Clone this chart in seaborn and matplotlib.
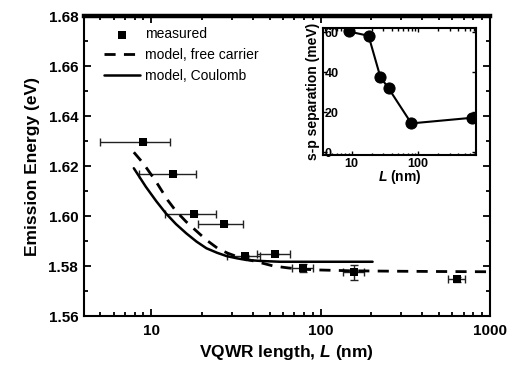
import numpy as np
import pandas as pd
import matplotlib
matplotlib.use("Agg")
import matplotlib.pyplot as plt
from matplotlib.ticker import LogLocator, FixedLocator, FixedFormatter, MultipleLocator, NullFormatter
import seaborn as sns

# Measured emission energies of the VQWRs
length_nm = [9, 13.5, 18, 27, 36, 54, 79, 158, 640]
length_err = [4, 5, 6, 8, 8, 12, 11, 23, 72]
energy_ev = [1.6295, 1.617, 1.601, 1.5967, 1.584, 1.585, 1.5792, 1.5775, 1.5747]
energy_err = [0.0, 0.0, 0.0, 0.0, 0.0005, 0.0, 0.0015, 0.003, 0.001]

# Model curves
free_L = [7.9, 9, 10.7, 12.5, 14, 16.1, 18.5, 21.2, 25, 28.4, 33, 36.6, 45, 52.7,
          65, 80, 100, 150, 200, 300, 500, 1000]
free_E = [1.6255, 1.621, 1.6137, 1.6064, 1.602, 1.5977, 1.594, 1.5904, 1.5868, 1.5851,
          1.5835, 1.5827, 1.5812, 1.5800, 1.5792, 1.5787, 1.5784, 1.5781, 1.5780,
          1.5779, 1.5778, 1.5777]
coul_L = [7.9, 9.3, 10.7, 12.2, 14, 16.1, 18.5, 21.2, 24.5, 27.8, 32, 36.6, 45, 57.9,
          80, 120, 203]
coul_E = [1.6191, 1.6117, 1.6060, 1.6011, 1.5968, 1.5931, 1.5898, 1.5871, 1.5853,
          1.5840, 1.5831, 1.5824, 1.5820, 1.5817, 1.5817, 1.5817, 1.5817]

# s-p separation (inset)
sp_L = [9, 18, 27, 36, 79, 640]
sp_meV = [60.5, 58.3, 37.8, 32.0, 14.5, 17.3]

sns.set_style("ticks")
plt.rcParams["font.family"] = ["Liberation Sans", "DejaVu Sans"]
plt.rcParams["mathtext.fontset"] = "custom"
plt.rcParams["mathtext.it"] = "Liberation Sans:italic:bold"
plt.rcParams["mathtext.rm"] = "Liberation Sans:bold"
for key in ["text.color", "axes.labelcolor", "xtick.color", "ytick.color", "axes.edgecolor"]:
    plt.rcParams[key] = "black"

fig = plt.figure(figsize=(5.14, 3.69), dpi=100)
ax = fig.add_axes([0.163, 0.1436, 0.790, 0.813])

meas = pd.DataFrame({"L": length_nm, "E": energy_ev})
ax.errorbar(length_nm, energy_ev, xerr=length_err, yerr=energy_err, fmt="none",
            ecolor="#222222", elinewidth=1.0, capsize=3, capthick=1.0, zorder=2)
sns.scatterplot(data=meas, x="L", y="E", marker="s", s=30, color="black",
                edgecolor="black", linewidth=0, ax=ax, zorder=3, label="measured")

free = pd.DataFrame({"L": free_L, "E": free_E})
coul = pd.DataFrame({"L": coul_L, "E": coul_E})
sns.lineplot(data=free, x="L", y="E", color="black", lw=2.0, ax=ax,
             label="model, free carrier", zorder=4)
sns.lineplot(data=coul, x="L", y="E", color="black", lw=1.8, ax=ax,
             label="model, Coulomb", zorder=4)
ax.lines[-2].set_dashes((4.0, 3.0))

ax.set_xscale("log")
ax.set_xlim(4, 1000)
ax.set_ylim(1.56, 1.68)
ax.xaxis.set_major_locator(FixedLocator([10, 100, 1000]))
ax.xaxis.set_major_formatter(FixedFormatter(["10", "100", "1000"]))
ax.xaxis.set_minor_locator(LogLocator(base=10, subs=np.arange(2, 10)))
ax.xaxis.set_minor_formatter(NullFormatter())
ax.yaxis.set_major_locator(MultipleLocator(0.02))
ax.yaxis.set_minor_locator(MultipleLocator(0.01))
ax.yaxis.set_major_formatter(matplotlib.ticker.FormatStrFormatter("%.2f"))
ax.tick_params(which="both", direction="in", top=True, right=True, width=1.3)
ax.tick_params(which="major", length=5, labelsize=11, pad=4)
ax.tick_params(which="minor", length=3)
ax.tick_params(axis="x", pad=6)
for lab in ax.get_xticklabels() + ax.get_yticklabels():
    lab.set_fontweight("bold")
for side in ["left", "bottom", "right"]:
    ax.spines[side].set_linewidth(1.5)
ax.spines["top"].set_linewidth(3.2)

ax.set_xlabel(r"VQWR length, $\mathit{L}$ (nm)", fontsize=12.5, fontweight="bold", labelpad=3)
ax.set_ylabel("Emission Energy (eV)", fontsize=12.5, fontweight="bold", labelpad=6)

leg = ax.legend(loc="upper left", bbox_to_anchor=(0.03, 0.99), frameon=False,
                fontsize=10, handlelength=2.6, handletextpad=0.3, labelspacing=0.5,
                borderaxespad=0.2)

# Inset: s-p separation
ins = fig.add_axes([0.628, 0.580, 0.299, 0.343])
sp = pd.DataFrame({"L": sp_L, "S": sp_meV})
sns.lineplot(data=sp, x="L", y="S", color="black", lw=1.5, marker="o",
             markersize=8, markeredgecolor="black", ax=ins)
ins.set_xscale("log")
ins.set_xlim(3.7, 750)
ins.set_ylim(-1.3, 62)
ins.xaxis.set_major_locator(FixedLocator([10, 100]))
ins.xaxis.set_major_formatter(FixedFormatter(["10", "100"]))
ins.xaxis.set_minor_locator(LogLocator(base=10, subs=np.arange(2, 10)))
ins.xaxis.set_minor_formatter(NullFormatter())
ins.yaxis.set_major_locator(FixedLocator([0, 20, 40, 60]))
ins.yaxis.set_major_formatter(FixedFormatter(["0", "20", "40", "60"]))
ins.tick_params(which="both", direction="in", top=True, right=True, width=1.0)
ins.tick_params(which="major", length=3, labelsize=9)
ins.tick_params(which="minor", length=1.8)
ins.tick_params(axis="x", pad=2)
ins.tick_params(axis="y", pad=-1.5)
for lab in ins.get_yticklabels():
    lab.set_horizontalalignment("left")
for lab in ins.get_xticklabels() + ins.get_yticklabels():
    lab.set_fontweight("bold")
for side in ins.spines.values():
    side.set_linewidth(1.5)
ins.set_xlabel(r"$\mathit{L}$ (nm)", fontsize=10, fontweight="bold", labelpad=-1)
ins.set_ylabel("s-p separation (meV)", fontsize=10, fontweight="bold", labelpad=2)

fig.savefig("out.png", dpi=100)
